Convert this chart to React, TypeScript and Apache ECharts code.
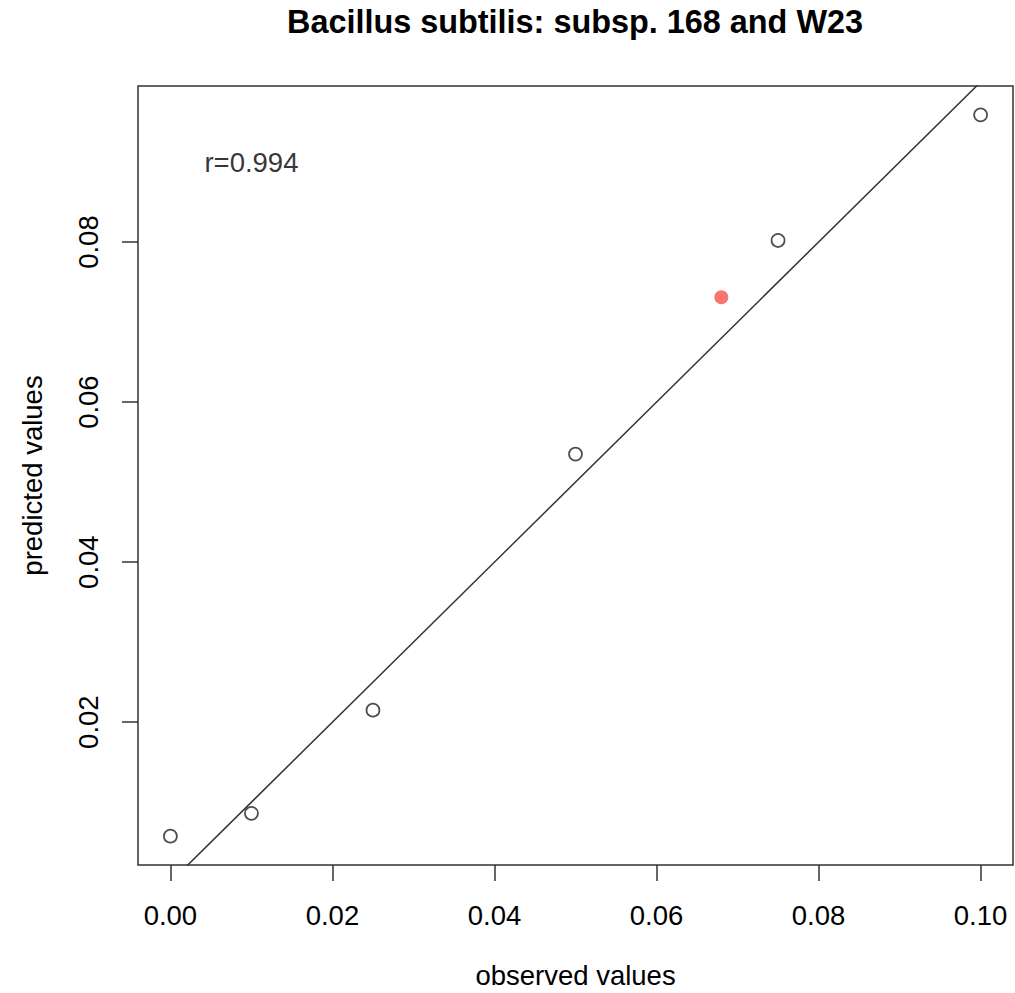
import React, { useEffect, useRef } from "react";
import * as echarts from "echarts";

const observed = [0.0, 0.01, 0.025, 0.05, 0.075, 0.1];
const predicted = [0.00575, 0.0086, 0.0215, 0.0535, 0.0802, 0.0959];
const highlightObserved = [0.068];
const highlightPredicted = [0.0731];
const xTicks = [0.0, 0.02, 0.04, 0.06, 0.08, 0.1];
const yTicks = [0.02, 0.04, 0.06, 0.08];
const rLabel = "r=0.994";
const rPos = [0.01, 0.09];
const title = "Bacillus subtilis: subsp. 168 and W23";

const FONT = "Liberation Sans, Arial, Helvetica, sans-serif";
const FS = 27.5;

function ext(vals: number[]) {
  const lo = Math.min(...vals);
  const hi = Math.max(...vals);
  const d = (hi - lo) * 0.04;
  return [lo - d, hi + d];
}

export default function App() {
  const ref = useRef<HTMLDivElement>(null);
  useEffect(() => {
    document.body.style.margin = "0";
    const chart = echarts.init(ref.current!, null, { renderer: "svg" });
    const [xMin, xMax] = ext([...observed, ...highlightObserved]);
    const [yMin, yMax] = ext([...predicted, ...highlightPredicted]);
    chart.setOption({
      animation: false,
      backgroundColor: "#ffffff",
      title: {
        text: title,
        left: 570,
        textAlign: "center",
        top: 1,
        textStyle: { fontFamily: FONT, fontSize: 32.4, fontWeight: "bold", color: "#000" },
      },
      grid: {
        left: 138,
        top: 86,
        right: 2,
        bottom: 128,
        show: true,
        borderColor: "#333",
        borderWidth: 1.5,
        backgroundColor: "transparent",
        containLabel: false,
        outerBoundsMode: "none",
      },
      xAxis: {
        type: "value",
        min: xMin,
        max: xMax,
        name: "observed values",
        nameLocation: "middle",
        nameGap: 96,
        nameTextStyle: { fontFamily: FONT, fontSize: FS, color: "#000" },
        axisLine: { show: false, onZero: false },
        splitLine: { show: false },
        axisTick: {
          show: true,
          inside: false,
          length: 16,
          customValues: xTicks,
          lineStyle: { color: "#333", width: 1.5 },
        },
        axisLabel: {
          customValues: xTicks,
          margin: 36,
          fontFamily: FONT,
          fontSize: FS,
          color: "#000",
          formatter: (v: number) => v.toFixed(2),
        },
      },
      yAxis: {
        type: "value",
        min: yMin,
        max: yMax,
        name: "predicted values",
        nameLocation: "middle",
        nameGap: 92,
        nameRotate: 90,
        nameTextStyle: { fontFamily: FONT, fontSize: FS, color: "#000" },
        axisLine: { show: false, onZero: false },
        splitLine: { show: false },
        axisTick: {
          show: true,
          inside: false,
          length: 16,
          customValues: yTicks,
          lineStyle: { color: "#333", width: 1.5 },
        },
        axisLabel: {
          customValues: yTicks,
          rotate: 90,
          margin: 36,
          fontFamily: FONT,
          fontSize: FS,
          color: "#000",
          formatter: (v: number) => v.toFixed(2),
        },
      },
      series: [
        {
          type: "line",
          data: [
            [xMin, xMin],
            [xMax, xMax],
          ],
          clip: true,
          symbol: "none",
          lineStyle: { color: "#333", width: 1.5 },
          silent: true,
        },
        {
          type: "scatter",
          data: observed.map((x, i) => [x, predicted[i]]),
          symbol: "circle",
          symbolSize: 13,
          itemStyle: { color: "transparent", borderColor: "#222", borderWidth: 1.7 },
        },
        {
          type: "scatter",
          data: highlightObserved.map((x, i) => [x, highlightPredicted[i]]),
          symbol: "circle",
          symbolSize: 14,
          itemStyle: { color: "#F8766D", opacity: 1 },
        },
        {
          type: "scatter",
          data: [rPos],
          symbolSize: 0,
          label: {
            show: true,
            position: "inside",
            formatter: rLabel,
            fontFamily: FONT,
            fontSize: FS,
            color: "#000",
          },
        },
      ],
    });
    return () => chart.dispose();
  }, []);
  return <div ref={ref} style={{ width: 1015, height: 993 }} />;
}
